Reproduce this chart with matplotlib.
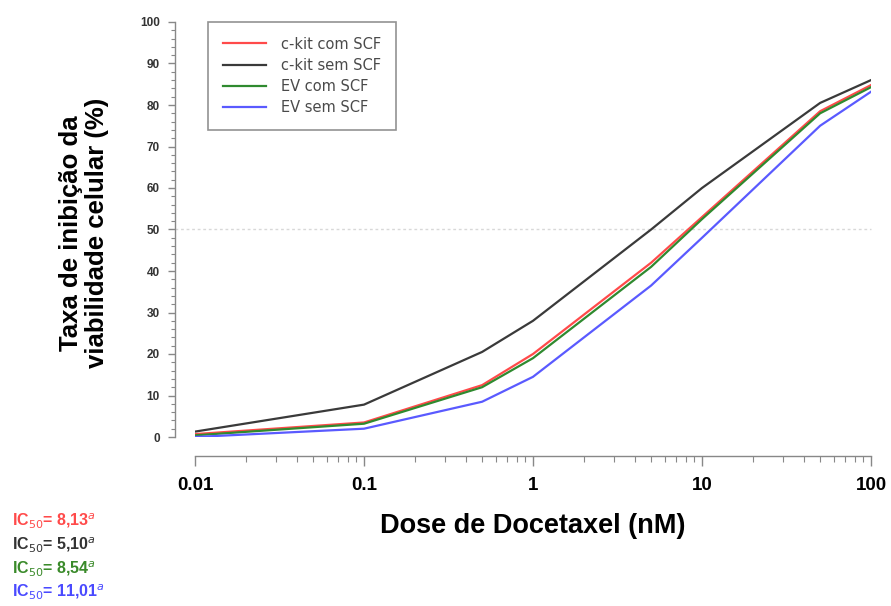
import matplotlib
matplotlib.use("Agg")
import matplotlib.pyplot as plt
from matplotlib.ticker import MultipleLocator
from matplotlib.font_manager import FontProperties

plt.rcParams['font.family'] = ['Liberation Sans', 'DejaVu Sans']

doses = [0.01, 0.1, 0.5, 1, 5, 10, 50, 100]
series_names = ["c-kit com SCF", "c-kit sem SCF", "EV com SCF", "EV sem SCF"]
ckit_com = [0.7, 3.5, 12.5, 20.0, 42.0, 53.0, 78.5, 84.8]
ckit_sem = [1.3, 7.8, 20.5, 28.0, 50.0, 60.0, 80.5, 86.0]
ev_com = [0.4, 3.2, 12.0, 19.0, 41.0, 52.5, 78.0, 84.3]
ev_sem = [0.0, 2.0, 8.5, 14.5, 36.5, 48.0, 75.0, 83.2]
series_colors = ["#ff4a4a", "#3a3a3a", "#2f8a2f", "#5a5aff"]
ic50_texts = [r"IC$_{50}$= 8,13$^{a}$", r"IC$_{50}$= 5,10$^{a}$",
              r"IC$_{50}$= 8,54$^{a}$", r"IC$_{50}$= 11,01$^{a}$"]
ic50_colors = ["#ff4a4a", "#333333", "#3a8a2a", "#4a4aff"]
x_ticks = [0.01, 0.1, 1, 10, 100]
x_tick_labels = ["0.01", "0.1", "1", "10", "100"]

W, H = 891, 606
fig = plt.figure(figsize=(W / 100, H / 100), dpi=100)
ax = fig.add_axes([195 / W, 1 - 437 / H, (871 - 195) / W, (437 - 22) / H])

for vals, name, col in zip([ckit_com, ckit_sem, ev_com, ev_sem], series_names, series_colors):
    ax.plot(doses, vals, color=col, lw=1.6, label=name)

ax.axhline(50, xmin=-20 / 676, xmax=1, color="#d8d8d8", lw=1.0, ls=(0, (2, 2)),
           clip_on=False, zorder=0)

ax.set_xscale("log")
ax.set_xlim(0.01, 100)
ax.set_ylim(0, 100)

ax.spines["top"].set_visible(False)
ax.spines["right"].set_visible(False)
ax.spines["left"].set_position(("outward", 14.4))
ax.spines["bottom"].set_position(("outward", 13.7))
for s in ("left", "bottom"):
    ax.spines[s].set_color("#888888")
    ax.spines[s].set_linewidth(1.0)

ax.yaxis.set_major_locator(MultipleLocator(10))
ax.yaxis.set_minor_locator(MultipleLocator(2))
ax.set_xticks(x_ticks)
ax.set_xticklabels(x_tick_labels)
ax.tick_params(axis="y", which="major", length=5, width=1, color="#888888",
               labelsize=8.5, labelcolor="#333333", pad=6)
ax.tick_params(axis="y", which="minor", length=3, width=0.8, color="#888888")
ax.tick_params(axis="x", which="major", length=7, width=1, color="#888888",
               labelsize=13.5, pad=8)
ax.tick_params(axis="x", which="minor", length=4, width=0.8, color="#888888")
for t in ax.get_xticklabels():
    t.set_fontweight("bold")
for t in ax.get_yticklabels():
    t.set_fontweight("bold")

ax.set_xlabel("Dose de Docetaxel (nM)", fontsize=19.5, fontweight="bold", labelpad=14)
fig.text(84 / W, 1 - 233 / H, "Taxa de inibição da\nviabilidade celular (%)",
         rotation=90, ha="center", va="center", fontsize=18.5, fontweight="bold",
         linespacing=1.1)

leg = ax.legend(loc="upper left", bbox_to_anchor=(208 / W, 1 - 22 / H),
                bbox_transform=fig.transFigure, frameon=True, fancybox=False,
                prop=FontProperties(family="DejaVu Sans", size=10.5),
                handlelength=3.0, borderpad=1.0, labelspacing=0.42,
                handletextpad=1.0, borderaxespad=0)
leg.get_frame().set_edgecolor("#777777")
leg.get_frame().set_linewidth(1.2)
for t in leg.get_texts():
    t.set_color("#4a4a4a")

for i, (txt, col) in enumerate(zip(ic50_texts, ic50_colors)):
    fig.text(12 / W, 1 - (521 + i * 23.5) / H, txt, color=col, fontsize=11.5,
             fontweight="bold", va="center", ha="left")

fig.savefig("out.png", dpi=100)
